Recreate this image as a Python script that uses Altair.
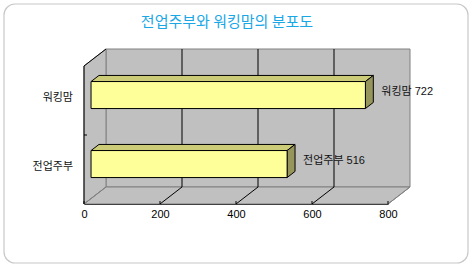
import altair as alt
import pandas as pd

# Data
categories = ["전업주부", "워킹맘"]
values = [516, 722]
x_ticks = [0, 200, 400, 600, 800]
title_text = "전업주부와 워킹맘의 분포도"

# Geometry of the 3D box (plot area = front plane)
W, H = 304, 138
XMAX = 800
NCAT = len(categories)
PX = W / XMAX                  # pixels per x unit
PY = H / NCAT                  # pixels per y unit
DX = 22 / PX                   # box depth, x units
DY = 17 / PY                   # box depth, y units
F1, F2 = 0.32, 0.68            # bar front / back depth fraction
HALF = 13.5 / PY               # half bar thickness

KFONT = "Noto Sans CJK KR"
NFONT = "Liberation Sans, Noto Sans CJK KR"

xs = alt.Scale(domain=[0, XMAX], nice=False, zero=False)
ys = alt.Scale(domain=[0, NCAT], nice=False, zero=False)
x_axis = alt.Axis(values=x_ticks, title=None, grid=False, ticks=False, labelFlush=False,
                  domainColor="black", domainWidth=1.2, labelFont=NFONT,
                  labelFontSize=11, labelColor="black", labelPadding=4)

cent = {c: i + 0.5 for i, c in enumerate(categories)}

# walls
back = pd.DataFrame([{"x": DX, "x2": XMAX + DX, "y": DY, "y2": NCAT + DY}])
left = pd.DataFrame([{"x": 0, "y": 0, "y2": NCAT},
                     {"x": DX, "y": DY, "y2": NCAT + DY}])
floor = pd.DataFrame([{"y": 0, "x": 0, "x2": XMAX},
                      {"y": DY, "x": DX, "x2": XMAX + DX}])

grid_vals = x_ticks[1:-1]
grid = pd.DataFrame([{"x": v + DX, "y": DY, "y2": NCAT + DY} for v in grid_vals])
diag = pd.DataFrame([{"x": v, "y": 0, "x2": v + DX, "y2": DY} for v in grid_vals])
edges = pd.DataFrame([
    {"x": 0, "y": 0, "x2": DX, "y2": DY},
    {"x": XMAX, "y": 0, "x2": XMAX + DX, "y2": DY},
])
dark_edges = pd.DataFrame([
    {"x": 0, "y": 0, "x2": 0, "y2": NCAT},
    {"x": 0, "y": NCAT, "x2": DX, "y2": NCAT + DY},
])
xtick_df = pd.DataFrame([{"x": v, "y": 0, "y2": 3 / PY} for v in x_ticks])
ytick_df = pd.DataFrame([{"x": 0, "x2": 3 / PX, "y": float(i)} for i in range(1, NCAT)])

# bars
front_rows, top_rows, side_rows, lab_rows = [], [], [], []
for c, v in zip(categories, values):
    m = cent[c]
    front_rows.append({"cat": c, "x": F1 * DX, "x2": v + F1 * DX,
                       "y": m - HALF + F1 * DY, "y2": m + HALF + F1 * DY})
    top_rows += [
        {"cat": c, "y": m + HALF + F1 * DY, "x": F1 * DX, "x2": v + F1 * DX},
        {"cat": c, "y": m + HALF + F2 * DY, "x": F2 * DX, "x2": v + F2 * DX},
    ]
    side_rows += [
        {"cat": c, "x": v + F1 * DX, "y": m - HALF + F1 * DY, "y2": m + HALF + F1 * DY},
        {"cat": c, "x": v + F2 * DX, "y": m - HALF + F2 * DY, "y2": m + HALF + F2 * DY},
    ]
    lab_rows.append({"cat": c, "x": v + F2 * DX, "y": m + (F1 + F2) / 2 * DY,
                     "label": f"{c}  {v}"})
front = pd.DataFrame(front_rows)
top = pd.DataFrame(top_rows)
side = pd.DataFrame(side_rows)
labs = pd.DataFrame(lab_rows)
ylabs = pd.DataFrame([{"cat": c, "x": 0, "y": cent[c]} for c in categories])

X = lambda f="x": alt.X(f"{f}:Q", scale=xs, axis=x_axis)
Y = lambda f="y": alt.Y(f"{f}:Q", scale=ys, axis=None)

frame = alt.Chart(pd.DataFrame([{"k": 0}])).mark_rect(
    filled=False, stroke="#C8C8C8", strokeWidth=1.2, cornerRadius=11
).encode(x=alt.value(-80), x2=alt.value(384), y=alt.value(-62), y2=alt.value(197))

back_l = alt.Chart(back).mark_rect(fill="#C0C0C0", stroke="#808080", strokeWidth=1).encode(
    x=X(), x2="x2:Q", y=Y(), y2="y2:Q")
left_l = alt.Chart(left).mark_area(orient="vertical", fill="#C0C0C0", stroke="#808080",
                                   strokeWidth=1).encode(x=X(), y=Y(), y2="y2:Q")
floor_l = alt.Chart(floor).mark_area(orient="horizontal", fill="#C0C0C0", stroke="#808080",
                                     strokeWidth=1).encode(y=Y(), x=X(), x2="x2:Q")
grid_l = alt.Chart(grid).mark_rule(color="black", strokeWidth=1).encode(x=X(), y=Y(), y2="y2:Q")
diag_l = alt.Chart(diag).mark_rule(color="black", strokeWidth=1).encode(
    x=X(), y=Y(), x2="x2:Q", y2="y2:Q")
edge_l = alt.Chart(edges).mark_rule(color="#808080", strokeWidth=1).encode(
    x=X(), y=Y(), x2="x2:Q", y2="y2:Q")
dark_l = alt.Chart(dark_edges).mark_rule(color="black", strokeWidth=1).encode(
    x=X(), y=Y(), x2="x2:Q", y2="y2:Q")
xtick_l = alt.Chart(xtick_df).mark_rule(color="black", strokeWidth=1).encode(
    x=X(), y=Y(), y2="y2:Q")
ytick_l = alt.Chart(ytick_df).mark_rule(color="black", strokeWidth=1).encode(
    x=X(), x2="x2:Q", y=Y())

top_l = alt.Chart(top).mark_area(orient="horizontal", fill="#CBCB78", stroke="black",
                                 strokeWidth=1).encode(y=Y(), x=X(), x2="x2:Q", detail="cat:N")
side_l = alt.Chart(side).mark_area(orient="vertical", fill="#96965C", stroke="black",
                                   strokeWidth=1).encode(x=X(), y=Y(), y2="y2:Q", detail="cat:N")
front_l = alt.Chart(front).mark_rect(fill="#FFFF99", stroke="black", strokeWidth=1).encode(
    x=X(), x2="x2:Q", y=Y(), y2="y2:Q")

val_l = alt.Chart(labs).mark_text(align="left", baseline="middle", dx=8, font=NFONT,
                                  fontSize=11, color="#111111").encode(
    x=X(), y=Y(), text="label:N")
ylab_l = alt.Chart(ylabs).mark_text(align="right", baseline="middle", dx=-11, dy=-3,
                                    font=KFONT, fontSize=11, color="#111111").encode(
    x=X(), y=Y(), text="cat:N")

chart = alt.layer(
    frame, back_l, left_l, floor_l, edge_l, grid_l, diag_l, dark_l, xtick_l, ytick_l,
    top_l, side_l, front_l, val_l, ylab_l
).properties(
    width=W, height=H,
    autosize=alt.AutoSizeParams(type="none"),
    padding={"left": 84, "top": 66, "right": 85, "bottom": 64},
    title=alt.TitleParams(title_text, font=KFONT, fontSize=15, fontWeight="normal",
                          color="#1AA7E6", anchor="middle", offset=0, dx=-9, dy=27),
    background="white",
).configure_view(strokeWidth=0)

chart.save("out.html", embed_options={"renderer": "svg", "actions": False})
